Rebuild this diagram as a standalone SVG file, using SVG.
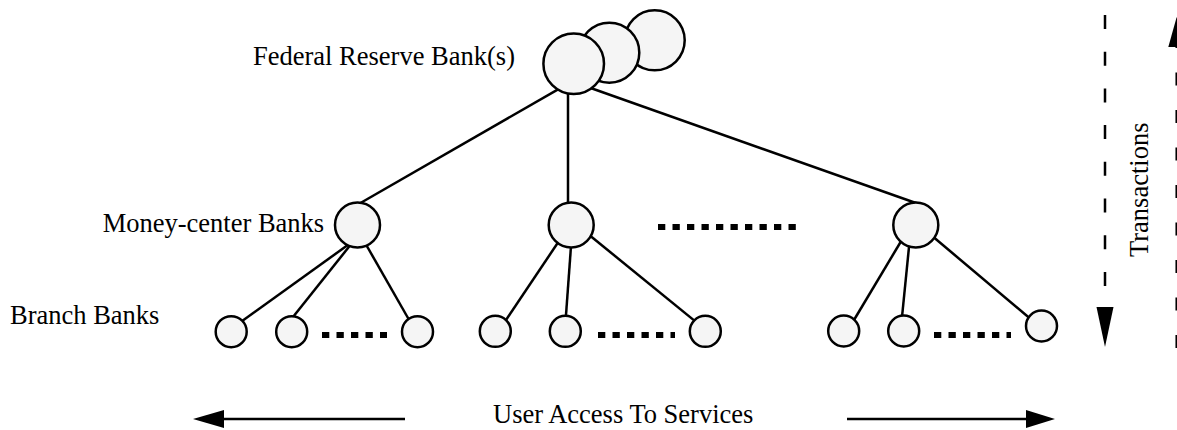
<svg xmlns="http://www.w3.org/2000/svg" width="1177" height="430" viewBox="0 0 1177 430">
<style>
.n{fill:#f5f5f5;stroke:#000;stroke-width:2.5}
.c{stroke:#000;stroke-width:2.5;fill:none}
.dots{stroke:#000;stroke-width:6;stroke-dasharray:7.3 7.2;fill:none}
.t{font-family:"Liberation Serif","Times New Roman",serif;font-size:26.5px;fill:#000}
.ah{fill:#000;stroke:none}
</style>
<rect width="1177" height="430" fill="#fff"/>
<g id="connectors">
<line class="c" x1="562" y1="87.1" x2="357" y2="205"/>
<line class="c" x1="568" y1="88" x2="568" y2="206"/>
<line class="c" x1="585" y1="86" x2="918" y2="203.8"/>
<line class="c" x1="352" y1="242" x2="238" y2="324"/>
<line class="c" x1="352" y1="243" x2="290" y2="320.7"/>
<line class="c" x1="364" y1="241" x2="410" y2="321.5"/>
<line class="c" x1="560" y1="239.5" x2="503" y2="324.5"/>
<line class="c" x1="571.3" y1="242" x2="565.5" y2="322"/>
<line class="c" x1="588" y1="234" x2="699" y2="324.4"/>
<line class="c" x1="903" y1="238" x2="851" y2="325"/>
<line class="c" x1="909.5" y1="242" x2="901.5" y2="322"/>
<line class="c" x1="931" y1="235" x2="1033" y2="321"/>
</g>
<g id="frb">
<circle class="n" cx="654.7" cy="40.3" r="30"/>
<circle class="n" cx="609.3" cy="52.7" r="30"/>
<circle class="n" cx="573.7" cy="63.8" r="30.3"/>
<text class="t" x="253" y="65">Federal Reserve Bank(s)</text>
</g>
<g id="money-center">
<circle class="n" cx="357.5" cy="225" r="22.5"/>
<circle class="n" cx="571.2" cy="225" r="22.5"/>
<circle class="n" cx="915.8" cy="225" r="22.5"/>
<line class="dots" x1="658" y1="227" x2="796" y2="227"/>
<text class="t" x="102.7" y="232">Money-center Banks</text>
</g>
<g id="branches-1">
<circle class="n" cx="231.2" cy="331.7" r="15.5"/>
<circle class="n" cx="291.7" cy="331.7" r="15.5"/>
<circle class="n" cx="417.5" cy="331.7" r="15.5"/>
<line class="dots" x1="322" y1="335" x2="387" y2="335"/>
</g>
<g id="branches-2">
<circle class="n" cx="495.3" cy="331.3" r="15.5"/>
<circle class="n" cx="565.3" cy="331.3" r="15.5"/>
<circle class="n" cx="705.3" cy="331.3" r="15.5"/>
<line class="dots" x1="598" y1="335" x2="675" y2="335"/>
</g>
<g id="branches-3">
<circle class="n" cx="843.7" cy="331" r="15.5"/>
<circle class="n" cx="903.7" cy="331" r="15.5"/>
<circle class="n" cx="1041.5" cy="326" r="15.5"/>
<line class="dots" x1="934" y1="335" x2="1011" y2="335"/>
</g>
<g id="branch-label">
<text class="t" x="10" y="324">Branch Banks</text>
</g>
<g id="transactions">
<line class="c" x1="1105" y1="15" x2="1105" y2="310" stroke-dasharray="14 22.7"/>
<polygon class="ah" points="1096.5,307 1113.5,307 1105,347"/>
<line class="c" x1="1176.7" y1="348" x2="1176.7" y2="47" stroke-dasharray="13 24.5"/>
<polygon class="ah" points="1168.3,47 1185.1,47 1176.7,17"/>
<text class="t" transform="translate(1148.3,257) rotate(-90)" x="0" y="0">Transactions</text>
</g>
<g id="user-access">
<line class="c" x1="222" y1="419" x2="405" y2="419"/>
<polygon class="ah" points="224,410 224,428 193,419"/>
<line class="c" x1="847" y1="419" x2="1028" y2="419"/>
<polygon class="ah" points="1026,410 1026,428 1055,419"/>
<text class="t" x="493" y="423">User Access To Services</text>
</g>
</svg>
